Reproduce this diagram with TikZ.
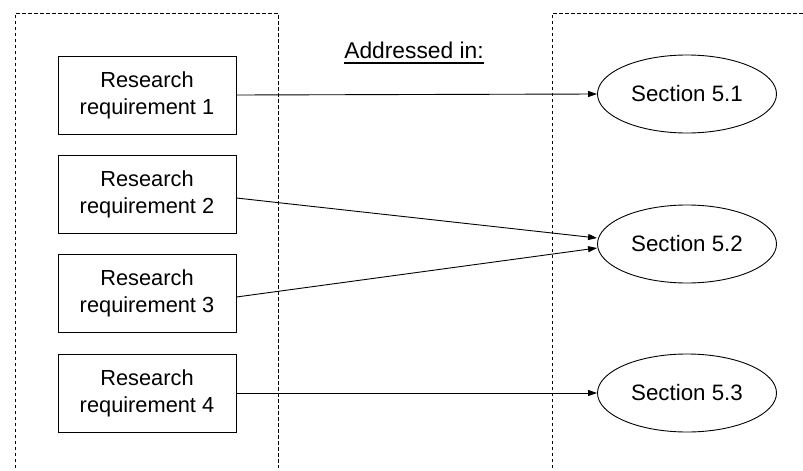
\documentclass[tikz,border=0pt]{standalone}
\usepackage{fontspec}
\setmainfont{Liberation Sans}
\usetikzlibrary{arrows.meta,shapes.geometric}

\tikzset{
  reqbox/.style={draw, line width=0.9pt, minimum width=178pt, minimum height=78pt,
    inner sep=0pt, align=center, font=\fontsize{21.8}{27}\selectfont},
  secnode/.style={ellipse, draw, line width=0.9pt, minimum width=179pt, minimum height=78pt,
    inner sep=0pt, font=\fontsize{22.3}{27}\selectfont},
  frame/.style={line width=0.8pt, dash pattern=on 3.5pt off 2.5pt},
  link/.style={line width=0.9pt, -{Triangle[length=9pt,width=6pt]}}
}

\begin{document}
\begin{tikzpicture}[x=1pt, y=-1pt]
  \useasboundingbox (0,0) rectangle (803,471);

  % dashed column frames
  \draw[frame] (15,468) -- (15,13) -- (278,13) -- (278,468);
  \draw[frame] (552,468) -- (552,13) -- (803,13);

  % heading with underline
  \node[anchor=base, inner sep=0pt, font=\fontsize{22.8}{27}\selectfont] (head) at (414,58) {Addressed in:};
  \draw[line width=1.6pt] ([yshift=-5pt]head.base west) -- ([yshift=-5pt]head.base east);

  % requirements
  \node[reqbox] (r1) at (147,95)  {Research\\requirement 1};
  \node[reqbox] (r2) at (147,194) {Research\\requirement 2};
  \node[reqbox] (r3) at (147,293) {Research\\requirement 3};
  \node[reqbox] (r4) at (147,393) {Research\\requirement 4};

  % sections
  \node[secnode] (s1) at (687,94)  {Section 5.1};
  \node[secnode] (s2) at (687,244) {Section 5.2};
  \node[secnode] (s3) at (687,393) {Section 5.3};

  % mapping arrows
  \draw[link] (r1.east) -- (s1.west);
  \draw[link] ([yshift=-4pt]r2.east) -- ([yshift=6pt]s2.west);
  \draw[link] ([yshift=-4pt]r3.east) -- ([yshift=-4pt]s2.west);
  \draw[link] (r4.east) -- (s3.west);
\end{tikzpicture}
\end{document}
